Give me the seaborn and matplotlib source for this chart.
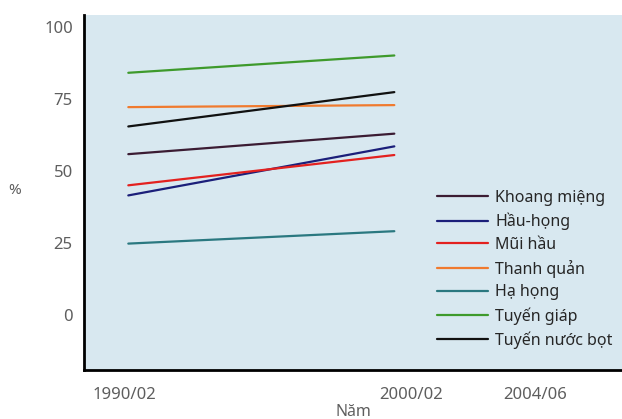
import pandas as pd
import seaborn as sns
import matplotlib.pyplot as plt

# Data
years = [1990.2, 1999.5]
sites = ["Khoang miệng", "Hầu-họng", "Mũi hầu", "Thanh quản",
         "Hạ họng", "Tuyến giáp", "Tuyến nước bọt"]
start_vals = [55.8, 41.5, 45.0, 72.1, 24.8, 84.0, 65.4]
end_vals = [62.9, 58.5, 55.5, 72.8, 29.1, 90.0, 77.3]
colors = ["#3b1c33", "#1b1f7a", "#e3211f", "#f07a2e",
          "#2a7880", "#3e9a2c", "#111111"]
tick_years = [1990.08, 2000.08, 2004.42]
tick_labels = ["1990/02", "2000/02", "2004/06"]
y_ticks = [0, 25, 50, 75, 100]

# Long format table for seaborn
rows = []
for s, a, b in zip(sites, start_vals, end_vals):
    rows.append({"site": s, "year": years[0], "pct": a})
    rows.append({"site": s, "year": years[1], "pct": b})
df = pd.DataFrame(rows)

sns.set_style("white")
plt.rcParams['font.family'] = ['Noto Sans', 'DejaVu Sans']

fig = plt.figure(figsize=(6.22, 4.19), dpi=100)
ax = fig.add_axes([0.135, 0.117, 0.865, 0.847])
ax.set_facecolor("#d8e8f0")

sns.lineplot(data=df, x="year", y="pct", hue="site", hue_order=sites,
             palette=dict(zip(sites, colors)), linewidth=1.6, ax=ax)

ax.set_xlim(1988.65, 2007.46)
ax.set_ylim(-19, 104)
ax.set_xticks(tick_years)
ax.set_xticklabels(tick_labels)
ax.set_yticks(y_ticks)

for side in ["top", "right"]:
    ax.spines[side].set_visible(False)
for side in ["left", "bottom"]:
    ax.spines[side].set_color("black")
    ax.spines[side].set_linewidth(2)

ax.tick_params(axis="both", direction="in", length=4, width=1.5,
               colors="black", labelcolor="#5e5e5e", labelsize=12)
ax.tick_params(axis="x", pad=12)
ax.tick_params(axis="y", pad=8)

ax.set_xlabel("Năm", color="#5e5e5e", fontsize=11.5)
ax.xaxis.set_label_coords(0.5, -0.095)
ax.set_ylabel("%", color="#5e5e5e", fontsize=11, rotation=0, va="center")
ax.yaxis.set_label_coords(-0.128, 0.505)

ax.legend(loc="upper left", bbox_to_anchor=(0.656, 0.507), frameon=False,
          handlelength=3.2, handletextpad=0.45, labelspacing=0.42,
          fontsize=11.5, borderaxespad=0, borderpad=0)

fig.savefig("out.png", dpi=100)
